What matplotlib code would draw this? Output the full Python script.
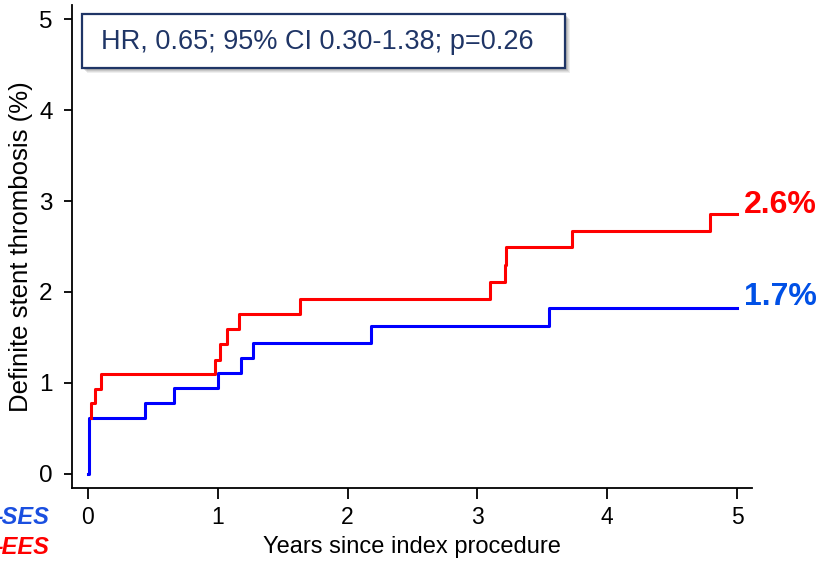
import matplotlib.pyplot as plt
from matplotlib.patches import Rectangle

plt.rcParams['font.family'] = ['Liberation Sans', 'DejaVu Sans']

# cumulative incidence curves (years, %)
ses_t = [0.0, 0.005, 0.01, 0.44, 0.66, 1.0, 1.18, 1.27, 2.18, 3.55, 5.0]
ses_y = [0.0, 0.46, 0.62, 0.78, 0.94, 1.11, 1.27, 1.44, 1.63, 1.82, 1.82]

ees_t = [0.02, 0.02, 0.054, 0.10, 0.98, 1.02, 1.07, 1.16, 1.63, 3.10, 3.21, 3.22, 3.73, 4.79, 5.0]
ees_y = [0.62, 0.78, 0.93, 1.10, 1.25, 1.43, 1.59, 1.76, 1.92, 2.11, 2.30, 2.49, 2.67, 2.86, 2.86]

end_labels = ['2.6%', '1.7%']
hr_text = 'HR, 0.65; 95% CI 0.30-1.38; p=0.26'

fig = plt.figure(figsize=(8.21, 5.61), dpi=100)
ax = fig.add_axes([72/821, 73/561, 680/821, 483/561])

ax.step(ses_t, ses_y, where='post', color='#0000ff', lw=2.2)
ax.step(ees_t, ees_y, where='post', color='#ff0000', lw=2.2)

ax.set_xlim(-0.123, 5.115)
ax.set_ylim(-0.154, 5.154)
ax.set_xticks(range(6))
ax.set_yticks(range(6))
ax.tick_params(axis='x', labelsize=16.5, length=8, width=1.3, pad=5)
ax.tick_params(axis='y', labelsize=17.5, length=6, width=1.3, pad=8)
for s in ['top', 'right']:
    ax.spines[s].set_visible(False)
for s in ['left', 'bottom']:
    ax.spines[s].set_linewidth(1.3)

ax.set_xlabel('Years since index procedure', fontsize=17, labelpad=5)
ax.set_ylabel('Definite stent thrombosis (%)', fontsize=18.5, labelpad=4)

# end-of-follow-up labels
ax.text(5.05, ees_y[-1] + 0.1, end_labels[0], color='#ff0000', fontsize=23,
        fontweight='bold', va='center', ha='left', clip_on=False)
ax.text(5.05, ses_y[-1] + 0.13, end_labels[1], color='#0050e6', fontsize=23,
        fontweight='bold', va='center', ha='left', clip_on=False)

# hazard ratio box with soft shadow
bx, by, bw, bh = 82/821, 1 - 68/561, (565-82)/821, 54/561
for k, a in [(5, 0.12), (4, 0.15), (3, 0.2), (2, 0.25)]:
    fig.add_artist(Rectangle((bx + k/821, by - k/561), bw, bh, transform=fig.transFigure,
                             facecolor='#777777', edgecolor='none', alpha=a))
fig.add_artist(Rectangle((bx, by), bw, bh, transform=fig.transFigure,
                         facecolor='white', edgecolor='#1f3566', lw=1.6))
fig.text(317/821, 1 - 42/561, hr_text, color='#1f3566', fontsize=19.5,
         ha='center', va='center')

# group legend at the lower-left edge
fig.text(49/821, 1 - 518/561, '\u2014SES', color='#1a4fe0', fontsize=17,
         fontweight='bold', style='italic', ha='right', va='center')
fig.text(49/821, 1 - 548/561, '\u2014EES', color='#ff0000', fontsize=17,
         fontweight='bold', style='italic', ha='right', va='center')

fig.savefig('out.png', dpi=100)
